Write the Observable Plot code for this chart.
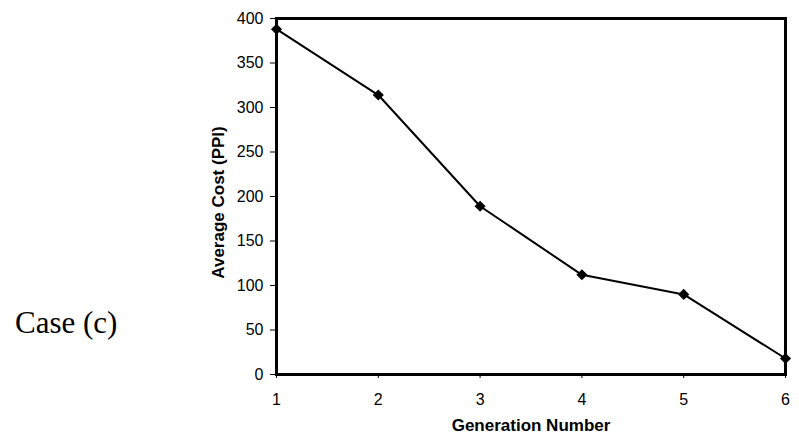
<!DOCTYPE html>
<html>
<head>
<meta charset="utf-8">
<script src="https://cdn.jsdelivr.net/npm/d3@7"></script>
<script src="https://cdn.jsdelivr.net/npm/@observablehq/plot@0.6"></script>
<style>
  html, body { margin: 0; padding: 0; background: #fff; }
  #wrap { position: relative; width: 799px; height: 442px; }
  #case { position: absolute; left: 15px; top: 305px; font-family: "Liberation Serif", "Times New Roman", serif; font-size: 31px; line-height: 36px; color: #000; white-space: nowrap; }
</style>
</head>
<body>
<div id="wrap">
  <div id="chart"></div>
  <div id="case">Case (c)</div>
</div>
<script>
const generations = [1, 2, 3, 4, 5, 6];
const averageCost = [388, 314, 189, 112, 90, 18];
const yTicks = [0, 50, 100, 150, 200, 250, 300, 350, 400];
const xTicks = [1, 2, 3, 4, 5, 6];
const xLabel = "Generation Number";
const yLabel = "Average Cost (PPI)";

const data = generations.map((g, i) => ({gen: g, cost: averageCost[i]}));

const chart = Plot.plot({
  width: 799,
  height: 442,
  marginLeft: 276,
  marginRight: 14,
  marginTop: 18,
  marginBottom: 68,
  style: {fontFamily: "'Liberation Sans', Arial, sans-serif", fontSize: "16px", color: "#000", background: "#fff"},
  x: {domain: [1, 6], ticks: xTicks, tickFormat: d => String(d), label: null},
  y: {domain: [0, 400], ticks: yTicks, label: null},
  marks: [
    Plot.axisX({ticks: xTicks, tickSize: 4, tickPadding: 15, tickFormat: d => String(d), label: null}),
    Plot.axisY({ticks: yTicks, tickSize: 6, tickPadding: 7, label: null}),
    Plot.frame({stroke: "#000", strokeWidth: 3}),
    Plot.line(data, {x: "gen", y: "cost", stroke: "#000", strokeWidth: 2}),
    Plot.dot(data, {x: "gen", y: "cost", symbol: "diamond2", fill: "#000", r: 5}),
    Plot.text([xLabel], {frameAnchor: "bottom", dy: 56, text: d => d, fontWeight: "bold", fontSize: 17, textAnchor: "middle"}),
    Plot.text([yLabel], {frameAnchor: "left", dx: -58, dy: 6, rotate: -90, text: d => d, fontWeight: "bold", fontSize: 17, textAnchor: "middle"})
  ]
});
document.getElementById("chart").appendChild(chart);
</script>
</body>
</html>
